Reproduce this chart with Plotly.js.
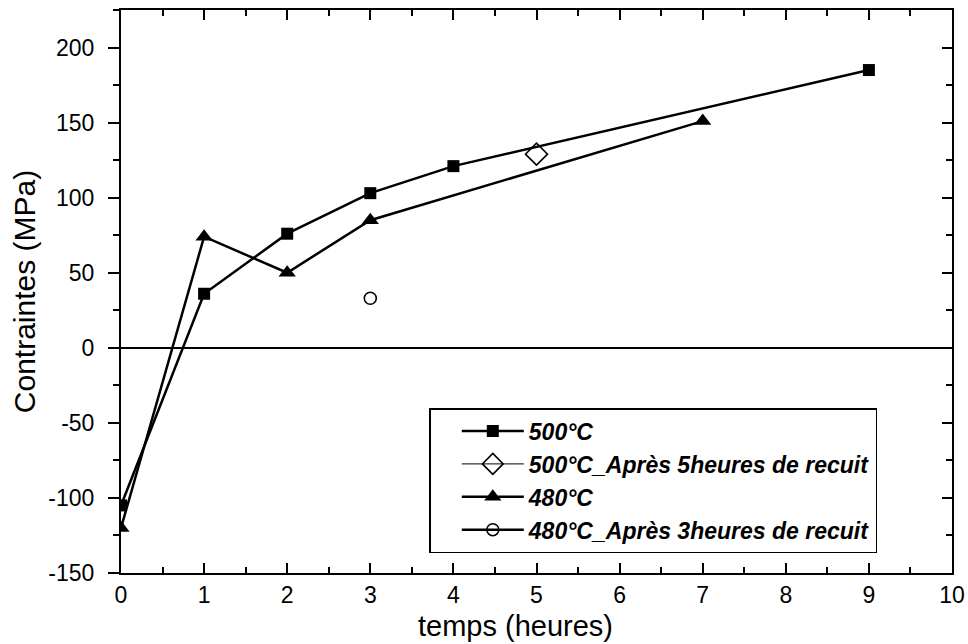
<!DOCTYPE html>
<html>
<head>
<meta charset="utf-8">
<script src="https://cdn.plot.ly/plotly-3.0.1.min.js"></script>
<style>html,body{margin:0;padding:0;background:#fff;}#chart{width:968px;height:644px;}</style>
</head>
<body>
<div id="chart"></div>
<script>
// Data
const hours500 = [0, 1, 2, 3, 4, 9];
const stress500 = [-105, 36, 76, 103, 121, 185];
const hours500Recuit = [5];
const stress500Recuit = [129];
const hours480 = [0, 1, 2, 3, 7];
const stress480 = [-120, 74, 50, 85, 151];
const hours480Recuit = [3];
const stress480Recuit = [33];

const seriesNames = [
  "500°C",
  "500°C_Après 5heures de recuit",
  "480°C",
  "480°C_Après 3heures de recuit"
];
const yTickVals = [-150, -100, -50, 0, 50, 100, 150, 200];
const yTickText = ["-150", "-100", "-50", "0", "50", "100", "150", "200"];
const xTitle = "temps (heures)";
const yTitle = "Contraintes (MPa)";

const FONT = "Liberation Sans, Arial, sans-serif";
const black = "#000000";

const traces = [
  {
    x: hours500, y: stress500, name: "<b><i>" + seriesNames[0] + "</i></b>",
    mode: "lines+markers", type: "scatter",
    line: {color: black, width: 2.5},
    marker: {symbol: "square", size: 12, color: black}
  },
  {
    x: hours500Recuit, y: stress500Recuit, name: "<b><i>" + seriesNames[1] + "</i></b>",
    mode: "lines+markers", type: "scatter",
    line: {color: black, width: 1},
    marker: {symbol: "diamond-open", size: 17, color: black, line: {width: 1.6, color: black}}
  },
  {
    x: hours480, y: stress480, name: "<b><i>" + seriesNames[2] + "</i></b>",
    mode: "lines+markers", type: "scatter",
    line: {color: black, width: 2.5},
    marker: {symbol: "triangle-up", size: 15, color: black}
  },
  {
    x: hours480Recuit, y: stress480Recuit, name: "<b><i>" + seriesNames[3] + "</i></b>",
    mode: "lines+markers", type: "scatter", yaxis: "y2",
    line: {color: black, width: 2.5},
    marker: {symbol: "circle-open", size: 12, color: black, line: {width: 1.6, color: black}}
  }
];

const yRange = [-150, 225];

const layout = {
  width: 968, height: 644,
  margin: {l: 121, r: 16, t: 10, b: 71, pad: 0},
  paper_bgcolor: "#fff", plot_bgcolor: "#fff",
  font: {family: FONT, color: black, size: 23},
  showlegend: true,
  legend: {
    x: 0.371, y: 0.293, xanchor: "left", yanchor: "top",
    bgcolor: "#fff", bordercolor: black, borderwidth: 1.5,
    font: {family: FONT, size: 23, color: black},
    itemwidth: 62, indentation: 26
  },
  xaxis: {
    range: [0, 10], dtick: 1, tick0: 0,
    ticks: "inside", ticklen: 10, tickwidth: 2, tickcolor: black,
    minor: {dtick: 0.5, ticks: "inside", ticklen: 6, tickwidth: 2, tickcolor: black},
    showline: true, linewidth: 2, linecolor: black, mirror: "ticks",
    showgrid: false, zeroline: false,
    tickfont: {family: FONT, size: 23, color: black}
  },
  yaxis: {
    range: yRange, tickmode: "array", tickvals: yTickVals, ticktext: yTickText,
    ticks: "outside", ticklen: 11, tickwidth: 2, tickcolor: black,
    minor: {tick0: 0, dtick: 25, ticks: "outside", ticklen: 6, tickwidth: 2, tickcolor: black},
    showline: true, linewidth: 2, linecolor: black,
    showgrid: false,
    zeroline: true, zerolinecolor: black, zerolinewidth: 1.5,
    ticklabelstandoff: 9,
    tickfont: {family: FONT, size: 23, color: black},
    title: {text: yTitle, font: {family: FONT, size: 30, color: black}, standoff: 4}
  },
  yaxis2: {
    overlaying: "y", side: "right", range: yRange, dtick: 50, tick0: 0,
    ticks: "inside", ticklen: 10, tickwidth: 2, tickcolor: black,
    minor: {dtick: 25, ticks: "inside", ticklen: 6, tickwidth: 2, tickcolor: black},
    showline: true, linewidth: 2, linecolor: black,
    showticklabels: false, showgrid: false, zeroline: false
  },
  annotations: [
    {
      text: xTitle, xref: "paper", yref: "paper",
      x: 0.475, y: -0.095, xanchor: "center", yanchor: "middle",
      showarrow: false, font: {family: FONT, size: 29, color: black}
    }
  ]
};

Plotly.newPlot("chart", traces, layout, {displayModeBar: false, staticPlot: true});
</script>
</body>
</html>
